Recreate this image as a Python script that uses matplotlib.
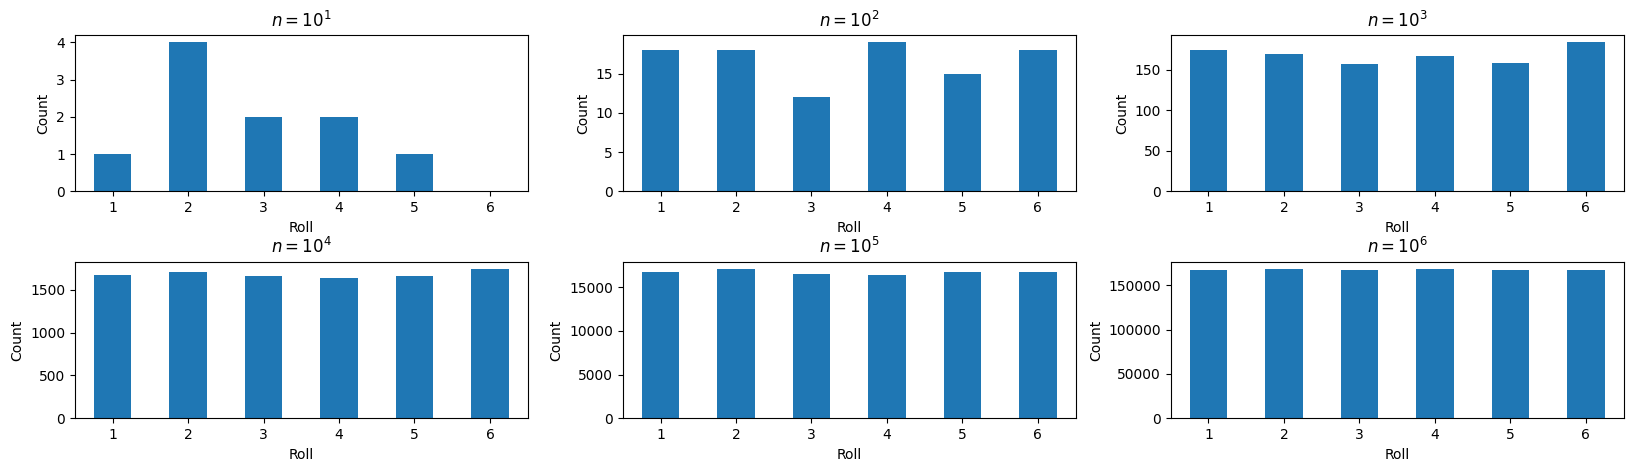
import matplotlib
matplotlib.use("Agg")
import matplotlib.pyplot as plt
import pandas as pd

# 掷骰子次数的指数和每个点数的计数
rolls = [1, 2, 3, 4, 5, 6]
exponents = [1, 2, 3, 4, 5, 6]
counts_1 = [1, 4, 2, 2, 1, 0]
counts_2 = [18, 18, 12, 19, 15, 18]
counts_3 = [174, 169, 157, 167, 159, 184]
counts_4 = [1668, 1703, 1657, 1634, 1657, 1737]
counts_5 = [16740, 17045, 16515, 16400, 16740, 16742]
counts_6 = [166900, 168000, 166900, 168000, 166900, 166900]

all_counts = [counts_1, counts_2, counts_3, counts_4, counts_5, counts_6]

fig, axes = plt.subplots(2, 3, figsize=(16.34, 4.72), dpi=100)

for ax, k, counts in zip(axes.flat, exponents, all_counts):
    s = pd.Series(counts, index=rolls)
    s.plot.bar(ax=ax, rot=0, color="#1f77b4")
    ax.set_title(r"$n = 10^{%d}$" % k)
    ax.set_xlabel("Roll")
    ax.set_ylabel("Count")

fig.tight_layout(pad=0.75, h_pad=0.2, w_pad=0.95)
fig.savefig("out.png")
